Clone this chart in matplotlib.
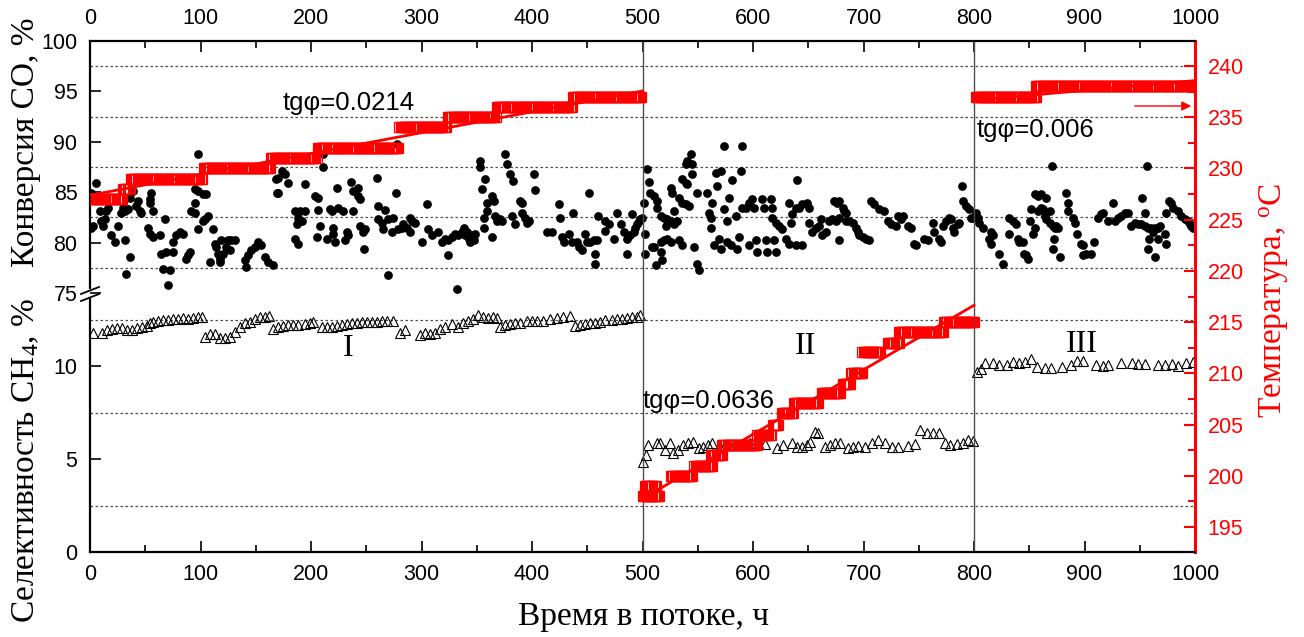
import matplotlib
matplotlib.use("Agg")
import matplotlib.pyplot as plt
import numpy as np
from matplotlib.lines import Line2D
from matplotlib.patches import FancyArrowPatch

plt.rcParams['font.family'] = ['Liberation Sans', 'DejaVu Sans']
plt.rcParams['mathtext.fontset'] = 'custom'
plt.rcParams['mathtext.rm'] = 'Liberation Serif'
plt.rcParams['mathtext.it'] = 'Liberation Serif:italic'

# ---- data ----
# CO conversion, % (black dots)
conv_t = [0.5, 1.2, 2.7, 5.7, 8.8, 10.3, 11.8, 13.3, 14.8, 16.3, 19.3, 22.3, 25.3, 28.4, 29.9,
          31.4, 32.0, 32.9, 34.4, 35.9, 35.9, 38.9, 41.9, 43.4, 45.0, 46.5, 52.5, 54.0, 54.0,
          54.0, 55.5, 57.0, 57.0, 63.1, 64.6, 66.1, 67.6, 69.1, 70.6, 72.1, 75.1, 75.1, 78.1,
          81.2, 84.2, 87.2, 88.7, 90.2, 91.7, 94.7, 94.7, 94.7, 97.7, 97.7, 97.7, 102.3, 102.3,
          103.8, 105.3, 106.8, 108.3, 111.3, 112.8, 114.3, 115.8, 117.4, 117.4, 118.9, 120.4,
          123.4, 124.9, 126.4, 127.9, 130.9, 140.0, 141.5, 143.0, 146.0, 149.0, 152.0, 155.1,
          158.1, 161.1, 165.6, 168.6, 169.5,
          170.4, 170.4, 173.4, 176.4, 179.5, 185.5, 185.5, 187.0, 188.5, 188.5, 190.0, 191.5,
          194.5, 194.5, 203.6, 205.1, 206.6, 206.6, 208.1, 210.5, 211.1, 214.2, 217.2, 218.7,
          220.2, 220.2, 221.7, 223.2, 224.7, 229.2, 230.7, 232.3, 233.8, 236.2, 238.3, 238.3,
          242.8, 242.8, 244.3, 244.3, 247.3, 248.2, 248.8, 259.4, 260.9, 260.9, 263.9, 265.4,
          266.9, 269.4, 270.0, 273.0, 274.5, 276.6, 277.5, 279.0, 282.0, 283.5, 286.6, 289.6,
          289.6, 291.1, 294.1, 300.1, 304.7, 306.2, 309.2, 315.2, 318.2, 321.2, 324.3, 324.3,
          327.3, 330.3, 331.8, 333.3, 336.3,
          338.2, 339.7, 341.2, 342.7, 344.2, 345.7, 347.3, 348.8, 353.3, 353.3, 354.8, 356.3,
          356.3, 357.8, 359.3, 359.3, 363.8, 363.8, 365.4, 366.9, 368.4, 371.4, 372.9, 375.9,
          377.4, 380.4, 381.9, 382.6, 384.4, 389.5, 391.0, 391.0, 394.0, 395.5, 397.0, 401.6,
          402.5, 413.6, 418.1, 424.8, 425.1, 427.2, 428.7, 433.8, 436.3, 436.9, 440.8, 442.3,
          445.3, 447.7, 449.8, 451.3, 452.8, 455.9, 456.8, 457.4, 458.9, 459.8, 465.8, 466.4,
          469.4, 474.0, 477.0, 480.9, 483.0, 486.0, 486.0, 489.0, 490.5, 492.0, 493.6, 495.1,
          496.6, 498.1, 499.6, 501.1, 502.0, 502.6, 504.1, 505.6, 507.1, 508.6,
          510.4, 510.4, 511.9, 513.4, 513.4, 516.5, 516.5, 516.5, 518.0, 519.5, 519.5, 521.0,
          522.5, 522.5, 525.5, 525.5, 525.5, 527.0, 528.5, 528.5, 531.5, 533.0, 533.0, 536.1,
          536.1, 536.1, 539.1, 539.1, 539.1, 540.6, 540.6, 542.1, 543.6, 545.1, 545.1, 546.6,
          549.0, 549.6, 551.1, 558.7, 560.2, 561.7, 561.7, 563.2, 564.7, 566.2, 567.7, 569.2,
          570.8, 570.8, 573.8, 573.8, 576.8, 576.8, 578.3, 579.8, 581.3, 584.9, 585.8, 587.3,
          588.9, 590.4, 590.4, 593.4, 596.4, 596.4, 599.4, 600.9, 602.4, 603.9, 608.5, 610.0,
          611.5, 613.0, 616.0, 617.5, 617.5, 619.0, 620.5, 620.5, 623.5, 626.6, 629.6, 632.6,
          632.6, 634.1, 635.6, 638.6, 638.6, 640.1, 641.6, 644.7, 644.7, 649.2, 650.7, 650.7,
          653.7, 656.7, 659.7, 661.3, 662.8, 665.8, 668.8, 671.8, 673.3, 676.3, 677.8,
          675.1, 678.1, 678.1, 681.1, 682.6, 684.1, 684.1, 687.2, 690.2, 693.2, 694.7, 696.2,
          699.2, 702.3, 705.3, 706.8, 709.8, 714.3, 718.8, 721.9, 724.9, 729.4, 730.9, 733.9,
          735.4, 740.0, 743.0, 746.0, 747.5, 755.0, 758.1, 762.6, 764.1, 768.6, 770.1, 771.6,
          774.6, 777.7, 779.2, 780.7, 782.2, 785.2, 786.7, 789.1, 789.7, 792.7, 795.8, 797.3,
          798.8, 801.8, 803.3, 804.8, 807.8, 813.9, 815.4, 815.4, 816.9, 822.9, 825.9, 832.0,
          832.0, 835.0, 838.0, 839.5, 841.0, 844.3, 845.5,
          847.3, 848.8, 850.3, 851.8, 853.4, 854.9, 854.9, 857.9, 857.9, 860.9, 860.9, 862.4,
          863.9, 865.4, 865.4, 868.4, 868.4, 870.5, 871.5, 871.5, 872.1, 873.0, 874.5, 876.0,
          877.5, 883.5, 885.0, 885.0, 889.5, 891.1, 893.2, 897.1, 898.6, 898.6, 901.6, 906.1,
          908.3, 912.2, 915.2, 916.7, 921.2, 925.8, 927.3, 930.3, 933.3, 936.3, 939.3, 942.3,
          945.4, 948.4, 951.4, 952.3, 954.4, 954.4, 956.5, 957.4, 957.4, 958.3, 960.4, 961.9,
          963.5, 963.5, 966.5, 966.5, 968.0, 972.5, 973.4, 974.0, 976.4, 978.5, 980.0, 984.6,
          987.6, 990.6, 993.6, 995.1, 996.6, 998.1]
conv = [81.4, 84.9, 81.6, 85.9, 83.1, 82.1, 81.6, 82.3, 83.1, 83.4, 80.8, 80.1, 81.6, 82.9, 83.4,
        83.1, 80.3, 76.9, 83.3, 78.6, 84.4, 85.1, 83.6, 84.1, 83.1, 82.9, 81.4, 84.3, 80.9,
        83.9, 84.9, 83.1, 80.6, 80.8, 78.9, 77.4, 82.3, 79.1, 75.8, 77.3, 79.1, 80.1, 80.8,
        81.1, 80.9, 78.4, 78.8, 79.1, 83.1, 85.3, 83.9, 82.9, 88.8, 85.1, 81.3, 84.8, 82.1,
        82.3, 84.8, 82.6, 78.1, 81.3, 79.9, 79.6, 78.9, 78.4, 78.1, 80.3, 78.9,
        79.6, 80.3, 79.3, 80.3, 80.3, 78.3, 77.6, 78.8, 79.3, 79.6, 80.1, 79.8,
        78.6, 78.1, 77.8, 86.3, 84.9,
        86.4, 84.9, 87.1, 86.8, 85.9, 83.1, 80.4, 81.8, 82.4, 79.9, 83.1, 82.1,
        83.1, 85.8, 84.6, 80.6, 84.4, 83.2, 81.6, 87.5, 88.8, 80.4, 83.3, 83.1,
        81.4, 80.9, 80.1, 85.4, 83.4, 83.1, 80.3, 81.1, 80.8, 86.0, 85.1, 83.1,
        85.4, 84.6, 84.3, 81.6, 81.1, 79.4, 81.3, 86.4, 83.6, 82.3, 81.9, 81.3,
        83.2, 76.8, 82.3, 81.1, 82.4, 84.9, 89.8, 81.3, 81.4, 81.8, 81.4, 82.4,
        81.1, 82.1, 81.9, 80.1, 83.8, 81.3, 80.8, 81.1, 80.1, 80.4, 80.3, 78.8,
        80.6, 80.9, 75.4, 80.8, 81.1,
        81.4, 80.8, 81.1, 80.4, 80.1, 80.8, 80.3, 80.9, 88.1, 87.5, 85.3, 82.4,
        81.4, 86.3, 83.9, 83.1, 84.6, 80.6, 84.1, 82.6, 82.1, 82.3, 82.1, 88.8,
        87.8, 86.8, 82.6, 86.1, 81.8, 84.1, 83.9, 82.9, 82.4, 81.9, 82.1, 86.8,
        85.2, 81.1, 81.1, 83.8, 82.4, 80.6, 80.1, 80.9, 80.1, 82.9, 80.1, 79.6,
        79.3, 80.9, 80.1, 84.9, 80.1, 80.3, 77.9, 78.9, 80.3, 82.6, 81.2, 82.1,
        81.8, 80.4, 82.9, 81.8, 81.1, 78.9, 80.4, 80.8, 82.8, 81.1, 81.4, 81.8,
        82.1, 82.3, 82.4, 83.9, 80.9, 78.9, 87.3, 86.0, 84.9, 79.6,
        84.6, 79.6, 77.8, 84.1, 83.4, 82.6, 80.1, 79.1, 78.3, 82.4, 80.3, 81.6,
        82.3, 80.4, 82.1, 80.1, 85.4, 84.9, 81.8, 83.1, 82.1, 84.4, 80.3, 83.9,
        79.8, 86.3, 83.8, 85.9, 87.8, 85.8, 88.1, 83.6, 88.8, 87.8, 86.8, 79.6,
        84.9, 77.9, 77.3, 84.9, 82.9, 82.4, 81.4, 83.9, 79.8, 86.9, 85.6, 80.4,
        87.1, 79.4, 89.6, 83.3, 82.1, 80.1, 84.4, 79.8, 86.2, 82.6, 79.4, 80.6,
        87.1, 89.6, 83.4, 83.4, 83.9, 79.8, 84.3, 83.4, 80.3, 79.1, 84.3, 83.4,
        80.3, 79.1, 84.3, 83.4, 82.4, 80.3, 79.1, 81.9, 81.6, 81.3, 80.4, 79.9,
        83.9, 81.9, 82.8, 79.8, 83.4, 86.2, 83.4, 83.8, 79.8, 83.9, 83.4, 81.9,
        81.1, 81.4, 81.6, 82.3, 80.8, 81.1, 82.1, 82.3, 84.1, 83.9, 80.3,
        82.1, 84.1, 82.4, 83.4, 83.1, 82.9, 82.1, 82.1, 81.9, 81.4, 81.1, 80.8,
        80.6, 80.4, 80.3, 84.1, 83.8, 83.3, 83.1, 82.1, 81.8, 81.6, 82.6, 82.3,
        82.6, 81.6, 81.4, 79.9, 79.8, 80.4, 80.3, 81.9, 81.1, 80.4, 80.1, 81.6,
        82.1, 82.4, 82.3, 81.4, 81.1, 81.8, 81.9, 85.6, 84.1, 83.6, 83.3, 82.4,
        82.4, 82.9, 82.4, 81.9, 81.4, 80.4, 81.1, 79.9, 80.8, 78.9, 77.9, 82.4,
        80.9, 82.1, 81.8, 80.4, 80.1, 80.1, 78.9,
        78.8, 78.4, 82.1, 83.3, 80.9, 81.4, 84.8, 84.6, 83.1, 84.8, 83.4, 83.3,
        82.6, 84.4, 82.3, 83.1, 81.9, 87.6, 81.6, 79.4, 80.4, 81.4, 81.6, 81.4,
        78.6, 84.9, 83.9, 83.1, 82.4, 81.9, 80.9, 79.9, 79.8, 78.8, 78.9, 78.9,
        80.1, 82.4, 82.8, 82.9, 82.1, 83.9, 82.1, 82.4, 82.6, 82.9, 82.9, 81.6,
        81.9, 81.8, 81.8, 84.4, 81.6, 82.9, 87.6, 81.4, 79.4, 80.4, 81.4, 81.1,
        81.4, 78.6, 81.4, 80.4, 81.6, 80.9, 79.9, 82.9, 84.1, 83.9, 83.4, 83.1,
        82.6, 82.3, 82.1, 81.8, 81.6, 81.4]

# CH4 selectivity, % (open triangles)
sel_t = [2.4, 10.6, 15.1, 19.6, 24.1, 28.7, 33.2, 37.7, 42.2, 46.8, 51.3, 54.3, 57.3, 61.8,
         66.4, 70.9, 75.4, 79.9, 84.5, 89.0, 93.5, 98.0, 101.1, 104.1, 108.6, 113.1, 117.6,
         122.2, 126.7, 131.2, 135.7, 140.3, 144.8, 149.3, 153.8, 158.4, 162.3, 165.9, 170.4,
         175.0, 179.5, 184.0, 188.5, 194.6, 199.1, 202.1, 209.7, 214.2, 218.7, 223.2, 227.8,
         232.3, 236.8, 241.3, 245.9, 250.4, 254.9, 259.4, 264.0, 268.5, 274.5, 280.5, 285.1,
         298.6, 303.2, 307.7, 312.2, 316.7, 321.3, 327.3, 333.3, 337.9, 342.4, 346.9, 351.4,
         356.0, 360.5, 365.0, 368.0, 371.0, 375.6, 380.1, 384.6, 389.1, 395.2, 399.7, 404.2,
         410.3, 416.3, 422.3, 428.4, 434.4, 438.9, 443.4, 448.0, 452.5, 457.0, 461.5, 466.1,
         472.1, 476.6, 481.2, 485.7, 490.2, 494.7, 497.7,
         500.8, 503.2, 505.3, 512.8, 515.8, 520.4, 524.9, 527.9, 532.4, 537.0, 541.5, 546.0,
         551.4, 555.1, 559.6, 562.6, 570.1, 574.7, 579.2, 585.2, 592.8, 597.3, 604.8, 610.9,
         621.4, 627.5, 635.0, 639.5, 644.1, 648.6, 651.6, 656.1, 659.1, 665.2, 669.7, 674.2,
         678.7, 686.3, 690.8, 695.3, 701.4, 707.4, 713.4, 719.4, 725.5, 731.5, 740.5, 746.6,
         751.1, 757.1, 762.6, 768.3, 773.7, 778.2, 784.3, 790.3, 794.8, 799.4,
         802.4, 806.0, 809.9, 816.9, 822.9, 829.5, 835.0, 841.0, 846.1, 851.5, 857.3, 864.2,
         869.3, 879.3, 887.4, 892.9, 898.3, 910.4, 916.4, 921.5, 932.7, 942.7, 948.7, 954.7,
         966.2, 972.8, 978.8, 984.9, 991.8, 997.9]
sel = [11.76, 11.76, 11.94, 11.97, 12.03, 12.06, 11.94, 11.94, 12.06, 12.11, 12.15, 12.29, 12.38,
       12.44, 12.47, 12.47, 12.51, 12.53, 12.56, 12.54, 12.56, 12.62, 12.65, 11.58, 11.72, 11.72,
       11.49, 11.49, 11.58, 11.85, 12.11, 12.29, 12.38, 12.51, 12.65, 12.65, 12.69, 11.97, 12.08,
       12.15, 12.19, 12.20, 12.20, 12.24, 12.29, 12.38, 12.08, 12.08, 12.11, 12.15, 12.20,
       12.24, 12.29, 12.33, 12.35, 12.37, 12.37, 12.38, 12.40, 12.42, 12.44, 11.79, 11.94,
       11.67, 11.76, 11.72, 11.76, 11.97, 12.11, 12.26, 12.11, 12.29, 12.44, 12.51, 12.74,
       12.62, 12.56, 12.62, 12.56, 12.11, 12.20, 12.26, 12.29, 12.33, 12.44, 12.44, 12.44,
       12.44, 12.51, 12.56, 12.65, 12.69, 12.15, 12.20, 12.24, 12.29, 12.33, 12.38, 12.47,
       12.47, 12.51, 12.54, 12.56, 12.62, 12.65, 12.74,
       4.86, 5.22, 5.75, 5.84, 5.88, 5.48, 5.84, 5.30, 5.48, 5.75, 5.84, 5.93,
       5.57, 5.66, 5.75, 5.84, 5.66, 5.75, 5.75, 5.75, 5.75, 5.84, 5.84, 5.81,
       5.57, 5.75, 5.84, 5.66, 5.66, 5.75, 5.93, 6.47, 6.38, 5.66, 5.75, 5.84,
       5.88, 5.57, 5.66, 5.72, 5.66, 5.84, 6.02, 5.88, 5.66, 5.66, 5.70, 5.81,
       6.56, 6.38, 6.38, 6.42, 5.84, 5.75, 5.81, 5.88, 6.02, 5.97,
       9.70, 9.82, 10.18, 10.18, 10.05, 10.05, 10.23, 10.18, 10.23, 10.36, 9.96, 9.87,
       9.87, 9.93, 10.05, 10.29, 10.27, 10.05, 10.00, 10.05, 10.14, 10.18, 10.11, 10.11,
       10.05, 10.05, 10.11, 10.00, 10.14, 10.20]

# reactor temperature, degC: held constant from step_from to step_to (h)
step_from = [0, 30, 37, 103, 164, 206, 280, 324, 368, 437,
             500, 502, 526, 547, 562, 572, 604, 618, 626, 637, 662, 681, 689, 699, 722, 732, 773,
             802, 856]
step_to = [29, 36, 101, 163, 205, 279, 322, 367, 436, 499,
           515, 512, 545, 563, 572, 604, 616, 623, 636, 659, 679, 688, 699, 715, 732, 772, 800,
           856, 997]
step_T = [227.0, 228.0, 229.0, 230.0, 231.0, 232.0, 234.0, 235.0, 236.0, 237.0,
          198.0, 199.0, 200.0, 201.0, 202.0, 203.0, 204.0, 205.0, 206.1, 207.1, 208.1, 209.0,
          210.0, 212.1, 213.0, 214.0, 215.0,
          237.0, 238.0]
stages = [0, 500, 800, 1000]
slope_text = ['tgφ=0.0214', 'tgφ=0.0636', 'tgφ=0.006']
stage_names = ['I', 'II', 'III']

# ---- layout (pixels of the 1304x637 picture) ----
W, H = 1304, 637
L, R, T, B = 90, 1195, 41, 552
SPLIT = 298
SERIF = 'Liberation Serif'


def box(top, bottom):
    return [L / W, 1 - bottom / H, (R - L) / W, (bottom - top) / H]


def fpt(px, py):
    return px / W, 1 - py / H


fig = plt.figure(figsize=(W / 100, H / 100), dpi=100)
ax_c = fig.add_axes(box(T, SPLIT))
ax_s = fig.add_axes(box(SPLIT, B))
ax_t = fig.add_axes(box(T, B))

ax_c.set_ylim(100 - (SPLIT - T) / 10.08, 100)
ax_s.set_ylim(0, (B - SPLIT) / 18.6)
ax_t.set_ylim(192.56, 242.44)

for ax in (ax_c, ax_s, ax_t):
    ax.set_xlim(0, 1000)
    ax.patch.set_visible(False)

for ax in (ax_c, ax_s):
    ax.set_xticks([])
    for s in ('top', 'right', 'bottom'):
        ax.spines[s].set_visible(False)
    ax.spines['left'].set_linewidth(1.6)
    ax.tick_params(axis='y', direction='in', length=8, width=1.2, labelsize=15.5, pad=9)

ax_c.spines['left'].set_bounds(75.5, 100)
ax_c.set_yticks([75, 80, 85, 90, 95, 100])
ax_s.set_yticks([0, 5, 10])

for y in [77.5, 82.5, 87.5, 92.5, 97.5]:
    ax_c.axhline(y, ls=(0, (2, 2)), color='0.3', lw=0.9)
for y in [2.5, 7.5, 12.5]:
    ax_s.axhline(y, ls=(0, (2, 2)), color='0.3', lw=0.9)

ax_c.plot(conv_t, conv, 'o', color='black', ms=6.3, mew=0)
ax_s.plot(sel_t, sel, '^', mfc='none', mec='black', mew=0.8, ms=7)

# temperature axis + frame
ax_t.spines['left'].set_visible(False)
for s in ('top', 'bottom'):
    ax_t.spines[s].set_linewidth(1.6)
ax_t.spines['right'].set_color('red')
ax_t.spines['right'].set_linewidth(2.2)
ax_t.set_xticks(np.arange(0, 1001, 100))
ax_t.set_xticks(np.arange(50, 1000, 100), minor=True)
ax_t.tick_params(axis='x', which='both', direction='in', top=True, bottom=True,
                 labeltop=True, labelbottom=True, labelsize=15.5, width=1.2, pad=9)
ax_t.tick_params(axis='x', which='major', length=8)
ax_t.tick_params(axis='x', which='minor', length=5)
ax_t.yaxis.tick_right()
ax_t.set_yticks(np.arange(195, 241, 5))
ax_t.set_yticks(np.arange(197.5, 242, 5), minor=True)
ax_t.tick_params(axis='y', which='both', direction='in', color='red', labelcolor='red',
                 labelsize=15.5, width=1.5, pad=9)
ax_t.tick_params(axis='y', which='major', length=8)
ax_t.tick_params(axis='y', which='minor', length=5)

for x in stages[1:-1]:
    ax_t.axvline(x, color='0.3', lw=1)

temp_t, temp = [], []
for a, b, tv in zip(step_from, step_to, step_T):
    hh = np.arange(a, b + 0.1, 1.0)
    temp_t.extend(hh)
    temp.extend([tv] * len(hh))
temp_t = np.array(temp_t)
temp = np.array(temp)
ax_t.plot(temp_t, temp, 's', mfc='none', mec='red', mew=0.9, ms=7.5)

for a, b in zip(stages[:-1], stages[1:]):
    m = (temp_t >= a) & (temp_t <= b)
    k, c0 = np.polyfit(temp_t[m], temp[m], 1)
    xx = np.array([a, b])
    ax_t.plot(xx, k * xx + c0, color='red', lw=2)

# texts
for txt, (px, py) in zip(slope_text, [(283, 103), (643, 401), (977, 130)]):
    fig.text(*fpt(px, py), txt, fontsize=18.5, ha='left', va='center')
for txt, (px, py) in zip(stage_names, [(348, 349), (806, 346), (1082, 345)]):
    fig.text(*fpt(px, py), txt, family=SERIF, fontsize=23, ha='center', va='center')

fig.text(*fpt(26, 142), 'Конверсия СО, %', family=SERIF, fontsize=24, rotation=90,
         ha='center', va='center')
fig.text(*fpt(26, 461), 'Селективность СН$_4$, %', family=SERIF, fontsize=24, rotation=90,
         ha='center', va='center')
fig.text(*fpt(1274, 300), 'Температура, $^{\\rm o}$С', family=SERIF, fontsize=24,
         rotation=90, color='red', ha='center', va='center')
fig.text(*fpt(643, 617), 'Время в потоке, ч', family=SERIF, fontsize=24,
         ha='center', va='center')

# axis break marks
for dy in (0, 7):
    x0, y0 = fpt(81, 294 + dy)
    x1, y1 = fpt(99, 287 + dy)
    fig.add_artist(Line2D([x0, x1], [y0, y1], color='black', lw=1.3))

fig.add_artist(FancyArrowPatch(fpt(1132, 106), fpt(1194, 106), transform=fig.transFigure,
                               arrowstyle='-|>', mutation_scale=14, color='red', lw=1))

fig.savefig('out.png', dpi=100)
